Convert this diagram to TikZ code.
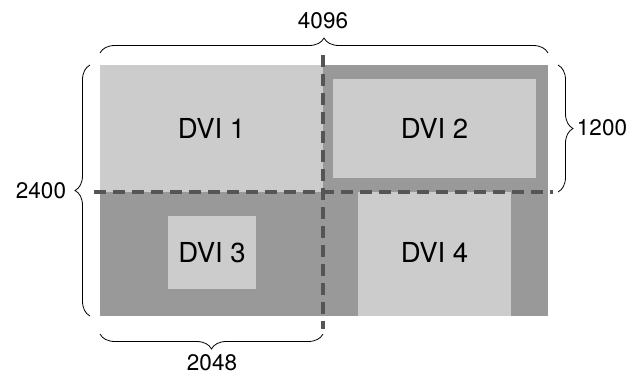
\documentclass[tikz,border=0pt]{standalone}
\usepackage{fontspec}
\setmainfont{TeX Gyre Heros}
\usepackage{tikz}
\usetikzlibrary{decorations.pathreplacing}
\definecolor{lgray}{HTML}{CCCCCC}
\definecolor{dgray}{HTML}{999999}
\definecolor{cutgray}{HTML}{555555}
\tikzset{dvi/.style = {font = \fontsize{27.5}{32}\selectfont}}
\tikzset{size/.style = {font = \fontsize{22.5}{27}\selectfont, inner sep = 1pt}}
\tikzset{cut/.style = {cutgray, line width = 4pt, dash pattern = on 12pt off 7pt}}
\tikzset{curly/.style = {decorate, decoration = {brace, amplitude = 15pt}, line width = 0.8pt}}

\begin{document}
\begin{tikzpicture}[x = 1pt, y = 1pt]
    \useasboundingbox (0, 0) rectangle (641, 376);

    % screen quadrants
    \fill [lgray] (100, 184) rectangle (323, 311);
    \fill [dgray] (323, 184) rectangle (548, 311);
    \fill [dgray] (100, 60) rectangle (548, 184);
    \fill [lgray] (333, 198) rectangle (536, 297);
    \fill [lgray] (168, 87) rectangle (256, 160);
    \fill [lgray] (358, 60) rectangle (511, 184);

    \node [dvi] (dvi1) at (211.5, 247.5) {DVI 1};
    \node [dvi] (dvi2) at (434.5, 247.5) {DVI 2};
    \node [dvi] (dvi3) at (212, 123.5) {DVI 3};
    \node [dvi] (dvi4) at (434.5, 123.5) {DVI 4};

    % split lines
    \coordinate (vtop) at (323, 321);
    \coordinate (vbot) at (323, 47);
    \coordinate (hleft) at (94, 184);
    \coordinate (hright) at (553, 184);
    \draw [cut] (vtop) -- (vbot);
    \draw [cut] (hleft) -- (hright);

    % sizes
    \coordinate (tl) at (100, 323);
    \coordinate (tr) at (548, 323);
    \coordinate (lb) at (90, 60);
    \coordinate (lt) at (90, 311);
    \coordinate (rt) at (558, 311);
    \coordinate (rb) at (558, 184);
    \coordinate (br) at (323, 42);
    \coordinate (bl) at (100, 42);
    \draw [curly] (tl) -- (tr);
    \draw [curly] (lb) -- (lt);
    \draw [curly] (rt) -- (rb);
    \draw [curly] (br) -- (bl);

    \node [size] (wfull) at (323, 355) {4096};
    \node [size] (hfull) at (41, 185) {2400};
    \node [size] (hhalf) at (602, 248) {1200};
    \node [size] (whalf) at (212, 13.5) {2048};
  \end{tikzpicture}
\end{document}
